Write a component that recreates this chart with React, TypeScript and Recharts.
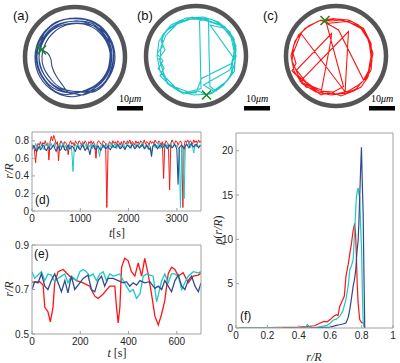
import React from "react";
import {
  ComposedChart,
  LineChart,
  Line,
  Scatter,
  XAxis,
  YAxis,
  ReferenceDot,
} from "recharts";

// ---- colours / fonts ----
const BLUE = "#2f4a8c";
const CYAN = "#1cc7c7";
const RED = "#ff1414";
const GREEN = "#1a8a1a";
const RING = "#555555";
const AX = "#a0a0a0";
const TXT = "#262626";
const SANS = "'Liberation Sans', Arial, Helvetica, sans-serif";
const SERIF = "'Liberation Serif', 'Times New Roman', serif";

// ---- trajectories (units of R, y up) ----
const TRAJ_A: [number, number][] = [
  [-0.67, 0.14], [-0.55, 0.08], [-0.48, -0.05], [-0.46, -0.19], [-0.37, -0.39], [-0.23, -0.59],
  [-0.1, -0.73], [0.1, -0.7], [0.4, -0.69], [0.69, -0.39], [0.8, 0.0], [0.69, 0.4], [0.4, 0.69],
  [0.0, 0.78], [-0.39, 0.68], [-0.69, 0.4], [-0.8, 0.0], [-0.7, -0.4], [-0.4, -0.7], [0.0, -0.79],
  [0.37, -0.64], [0.64, -0.37], [0.74, 0.02], [0.65, 0.36], [0.36, 0.66], [0.03, 0.72],
  [-0.37, 0.64], [-0.65, 0.36], [-0.76, 0.01], [-0.66, -0.37], [-0.36, -0.66], [0.02, -0.74],
  [0.2, -0.75], [0.55, -0.55], [0.75, -0.2], [0.75, 0.2], [0.55, 0.55], [0.2, 0.75],
  [-0.2, 0.75], [-0.55, 0.55], [-0.75, 0.2], [-0.75, -0.2], [-0.55, -0.55], [-0.2, -0.75],
  [0.35, -0.6], [0.62, -0.35], [0.7, -0.02], [0.66, 0.4], [0.38, 0.62], [0.05, 0.68],
  [-0.35, 0.6], [-0.62, 0.34], [-0.72, -0.03], [-0.62, -0.35], [-0.33, -0.62], [0.0, -0.69],
  [0.19, -0.69], [0.51, -0.5], [0.69, -0.19], [0.7, 0.18], [0.5, 0.52], [0.18, 0.7],
  [-0.19, 0.69], [-0.52, 0.5], [-0.7, 0.19], [-0.69, -0.18], [-0.5, -0.51], [-0.18, -0.7],
  [0.18, -0.68], [0.5, -0.49], [0.68, -0.18], [0.68, 0.18], [0.48, 0.5], [0.17, 0.66],
  [-0.17, 0.64], [-0.46, 0.46], [-0.63, 0.17], [-0.64, -0.17], [-0.46, -0.47], [-0.17, -0.66],
  [0.38, -0.66], [0.67, -0.38], [0.77, 0.01], [0.7, 0.38], [0.42, 0.66], [0.1, 0.76],
  [-0.38, 0.7], [-0.66, 0.38], [-0.67, 0.14],
];
const TRAJ_B: [number, number][] = [
  [0.21, -0.78], [0.45, -0.66], [0.66, -0.45], [0.78, -0.15], [0.8, 0.15], [0.7, 0.42], [0.48, 0.62],
  [0.2, 0.73], [0.07, 0.7], [0.08, 0.3], [0.09, -0.2], [0.1, -0.65], [-0.15, -0.72], [-0.42, -0.62],
  [-0.62, -0.42], [-0.72, -0.12], [-0.7, 0.18], [-0.6, 0.42], [-0.38, 0.64], [-0.1, 0.74],
  [0.25, 0.72], [0.26, 0.1], [0.28, -0.61], [0.4, -0.7], [0.55, -0.58], [0.72, -0.35], [0.8, 0.0],
  [0.74, 0.32], [0.55, 0.56], [0.28, 0.62], [0.78, -0.08], [0.77, -0.3], [0.62, -0.5], [0.35, -0.7],
  [0.15, -0.58], [0.68, -0.28], [0.79, 0.05], [0.76, 0.35], [0.58, 0.58], [0.3, 0.74], [0.0, 0.76],
  [-0.3, 0.7], [-0.55, 0.55], [-0.74, 0.3], [-0.78, 0.0], [-0.72, -0.3], [-0.55, -0.55],
  [-0.28, -0.72], [0.0, -0.74], [0.11, -0.45], [0.71, -0.15], [0.8, 0.2], [0.68, 0.48], [0.45, 0.68],
  [0.15, 0.78], [-0.2, 0.76], [-0.5, 0.62], [-0.68, 0.4], [-0.66, 0.2], [-0.78, 0.05], [-0.66, -0.1],
  [-0.76, -0.25], [-0.62, -0.4], [-0.58, -0.55], [-0.35, -0.7], [-0.05, -0.78], [0.3, -0.76],
  [0.52, -0.6], [0.7, -0.4], [0.76, 0.1], [0.7, 0.38], [0.52, 0.6], [0.22, 0.7], [-0.08, 0.78],
  [-0.35, 0.66], [-0.6, 0.5], [-0.7, 0.3], [-0.62, 0.12], [-0.74, -0.05], [-0.64, -0.25],
  [-0.72, -0.4], [-0.5, -0.6], [-0.25, -0.76], [0.05, -0.7], [0.21, -0.78],
];
const TRAJ_C: [number, number][] = [
  [-0.22, 0.71], [0.0, 0.74], [0.25, 0.72], [0.45, 0.62], [0.6, 0.45], [0.68, 0.2], [0.72, -0.05],
  [0.7, -0.28], [0.6, -0.45], [0.45, -0.58], [0.25, -0.7], [0.0, -0.76], [-0.25, -0.74], [-0.5, -0.62],
  [-0.72, -0.51], [0.25, 0.49], [0.18, -0.75], [0.4, -0.66], [0.62, -0.4], [0.72, -0.1], [0.7, 0.25],
  [0.55, 0.55], [0.3, 0.7], [-0.19, 0.65], [0.15, -0.61], [-0.05, -0.72], [-0.35, -0.7], [-0.6, -0.52],
  [-0.79, -0.28], [-0.09, 0.45], [-0.1, 0.32], [-0.29, -0.68], [-0.55, -0.58], [-0.75, -0.4],
  [-0.88, -0.1], [-0.85, 0.2], [-0.75, 0.42], [-0.55, 0.6], [-0.3, 0.72], [0.05, 0.52], [0.55, -0.48],
  [0.65, -0.3], [0.7, 0.0], [0.66, 0.3], [0.5, 0.55], [0.25, 0.68], [-0.05, 0.75], [-0.35, 0.7],
  [-0.62, 0.55], [-0.82, 0.3], [-0.9, 0.0], [-0.84, -0.3], [-0.68, -0.55], [-0.4, -0.72], [-0.1, -0.78],
  [0.2, -0.74], [-0.7, 0.45], [-0.78, 0.25], [-0.86, 0.05], [-0.8, -0.15], [-0.88, -0.3],
  [-0.72, -0.45], [-0.6, -0.62], [-0.45, -0.66], [-0.3, -0.78], [-0.1, -0.72], [0.1, -0.8],
  [0.35, -0.7], [0.5, -0.62], [0.64, -0.42], [0.68, -0.22], [0.74, 0.05], [0.64, 0.36],
  [0.48, 0.58], [0.3, 0.66], [0.1, 0.72], [-0.1, 0.7], [-0.22, 0.71],
];
const START_A: [number, number] = [-0.67, 0.14];
const START_B: [number, number] = [0.21, -0.78];
const START_C: [number, number] = [-0.22, 0.71];

// ---- (d) r/R vs t, long run ----
const D_RED: [number, number][] = [
  [0, .72], [25, .75], [50, .70], [75, .55], [100, .72], [125, .77], [150, .75], [175, .79], [200, .74],
  [225, .78], [250, .76], [275, .80], [300, .75], [325, .77], [350, .58], [375, .79], [400, .85],
  [425, .80], [450, .86], [475, .82], [500, .76], [525, .79], [550, .57], [575, .76], [600, .80],
  [625, .77], [650, .74], [675, .79], [700, .78], [725, .75], [750, .64], [775, .77], [800, .80],
  [825, .76], [850, .78], [875, .74], [900, .80], [925, .77], [950, .76], [975, .80], [1000, .78],
  [1025, .75], [1050, .79], [1075, .76], [1100, .80], [1125, .78], [1150, .72], [1175, .79],
  [1200, .77], [1225, .80], [1250, .76], [1275, .79], [1300, .75], [1325, .60], [1350, .77],
  [1375, .80], [1400, .79], [1425, .76], [1450, .75], [1475, .80], [1500, .78], [1525, .77],
  [1550, .04], [1575, .70], [1600, .79], [1625, .78], [1650, .75], [1675, .80], [1700, .77],
  [1725, .79], [1750, .76], [1775, .80], [1800, .78], [1825, .75], [1850, .79], [1875, .74],
  [1900, .80], [1925, .78], [1950, .76], [1975, .80], [2000, .77], [2025, .81], [2050, .76],
  [2075, .79], [2100, .78], [2125, .75], [2150, .80], [2175, .77], [2200, .79], [2225, .76],
  [2250, .80], [2275, .78], [2300, .77], [2325, .81], [2350, .76], [2375, .79], [2400, .78],
  [2425, .75], [2450, .80], [2475, .77], [2500, .79], [2525, .76], [2550, .81], [2575, .78],
  [2600, .77], [2625, .80], [2650, .78], [2675, .75], [2700, .79], [2725, .37], [2750, .76],
  [2775, .80], [2800, .78], [2825, .76], [2850, .24], [2875, .77], [2900, .81], [2925, .78],
  [2950, .76], [2975, .80], [3000, .79], [3025, .75], [3050, .78], [3075, .80], [3100, .77],
  [3125, .04], [3150, .74], [3175, .80], [3200, .78], [3225, .81], [3250, .77], [3275, .80],
  [3300, .79], [3325, .76], [3350, .81], [3375, .78], [3400, .80], [3425, .77], [3450, .81],
  [3475, .78], [3500, .80],
];
const D_CYAN: [number, number][] = [
  [0, .76], [25, .73], [50, .71], [75, .77], [100, .74], [125, .70], [150, .75], [175, .72], [200, .77],
  [225, .73], [250, .70], [275, .76], [300, .74], [325, .78], [350, .71], [375, .75], [400, .77],
  [425, .72], [450, .74], [475, .78], [500, .73], [525, .70], [550, .75], [575, .77], [600, .72],
  [625, .74], [650, .78], [675, .71], [700, .75], [725, .73], [750, .70], [775, .76], [800, .74],
  [825, .68], [850, .45], [875, .71], [900, .76], [925, .73], [950, .77], [975, .71], [1000, .75],
  [1025, .73], [1050, .78], [1075, .72], [1100, .74], [1125, .77], [1150, .70], [1175, .75],
  [1200, .73], [1225, .77], [1250, .71], [1275, .74], [1300, .76], [1325, .72], [1350, .75],
  [1375, .70], [1400, .62], [1425, .74], [1450, .77], [1475, .72], [1500, .75], [1525, .73],
  [1550, .77], [1575, .71], [1600, .75], [1625, .73], [1650, .78], [1675, .72], [1700, .75],
  [1725, .77], [1750, .71], [1775, .74], [1800, .76], [1825, .72], [1850, .75], [1875, .73],
  [1900, .77], [1925, .71], [1950, .74], [1975, .78], [2000, .73], [2025, .75], [2050, .71],
  [2075, .77], [2100, .74], [2125, .72], [2150, .76], [2175, .73], [2200, .77], [2225, .71],
  [2250, .75], [2275, .73], [2300, .78], [2325, .72], [2350, .74], [2375, .76], [2400, .71],
  [2425, .75], [2450, .73], [2475, .66], [2500, .74], [2525, .77], [2550, .72], [2575, .75],
  [2600, .73], [2625, .78], [2650, .71], [2675, .75], [2700, .73], [2725, .77], [2750, .72],
  [2775, .74], [2800, .76], [2825, .71], [2850, .75], [2875, .78], [2900, .72], [2925, .74],
  [2950, .77], [2975, .73], [3000, .75], [3025, .72], [3050, .70], [3075, .04], [3100, .72],
  [3125, .74], [3150, .14], [3175, .73], [3200, .77], [3225, .74], [3250, .78], [3275, .72],
  [3300, .75], [3325, .73], [3350, .66], [3375, .76], [3400, .73], [3425, .77], [3450, .72],
  [3475, .75], [3500, .74],
];
const D_BLUE: [number, number][] = [
  [0, .70], [25, .73], [50, .74], [75, .69], [100, .68], [125, .72], [150, .73], [175, .70], [200, .71],
  [225, .75], [250, .74], [275, .70], [300, .69], [325, .72], [350, .73], [375, .70], [400, .71],
  [425, .74], [450, .75], [475, .71], [500, .68], [525, .72], [550, .73], [575, .69], [600, .70],
  [625, .74], [650, .74], [675, .70], [700, .69], [725, .73], [750, .75], [775, .71], [800, .71],
  [825, .74], [850, .73], [875, .70], [900, .68], [925, .72], [950, .74], [975, .71], [1000, .70],
  [1025, .73], [1050, .75], [1075, .72], [1100, .69], [1125, .71], [1150, .73], [1175, .70],
  [1200, .64], [1225, .72], [1250, .74], [1275, .75], [1300, .71], [1325, .70], [1350, .73],
  [1375, .74], [1400, .71], [1425, .69], [1450, .72], [1475, .75], [1500, .73], [1525, .71],
  [1550, .72], [1575, .74], [1600, .71], [1625, .70], [1650, .73], [1675, .75], [1700, .73],
  [1725, .72], [1750, .74], [1775, .76], [1800, .73], [1825, .71], [1850, .72], [1875, .74],
  [1900, .72], [1925, .70], [1950, .73], [1975, .75], [2000, .74], [2025, .72], [2050, .73],
  [2075, .76], [2100, .74], [2125, .71], [2150, .72], [2175, .75], [2200, .74], [2225, .72],
  [2250, .73], [2275, .76], [2300, .74], [2325, .71], [2350, .72], [2375, .75], [2400, .73],
  [2425, .70], [2450, .72], [2475, .62], [2500, .73], [2525, .75], [2550, .76], [2575, .73],
  [2600, .71], [2625, .73], [2650, .75], [2675, .74], [2700, .72], [2725, .73], [2750, .76],
  [2775, .74], [2800, .71], [2825, .73], [2850, .75], [2875, .74], [2900, .72], [2925, .73],
  [2950, .76], [2975, .74], [3000, .70], [3025, .30], [3050, .72], [3075, .74], [3100, .75],
  [3125, .73], [3150, .71], [3175, .74], [3200, .76], [3225, .74], [3250, .72], [3275, .75],
  [3300, .77], [3325, .74], [3350, .73], [3375, .75], [3400, .76], [3425, .74], [3450, .72],
  [3475, .74], [3500, .75],
];
const D_XTICKS = [0, 1000, 2000, 3000];
const D_YTICKS = [0, 0.2, 0.4, 0.6, 0.8];

// ---- (e) first 700 s ----
const E_RED: [number, number][] = [
  [0, 0.733], [32, 0.735], [46, 0.72], [53, 0.62], [66, 0.6], [76, 0.555], [87, 0.62], [94, 0.73],
  [108, 0.78], [129, 0.79], [142, 0.775], [156, 0.76], [170, 0.75], [184, 0.74], [212, 0.73],
  [239, 0.715], [260, 0.67], [274, 0.66], [295, 0.68], [322, 0.715], [343, 0.715], [350, 0.62],
  [357, 0.55], [364, 0.62], [371, 0.8], [384, 0.84], [398, 0.83], [412, 0.78], [426, 0.76], [440, 0.82],
  [454, 0.76], [467, 0.84], [481, 0.77], [495, 0.68], [509, 0.58], [523, 0.54], [537, 0.59],
  [550, 0.65], [564, 0.77], [578, 0.8], [592, 0.79], [606, 0.76], [626, 0.775], [647, 0.73],
  [668, 0.76], [689, 0.765], [700, 0.775],
];
const E_CYAN: [number, number][] = [
  [0, 0.78], [11, 0.75], [25, 0.765], [39, 0.78], [53, 0.74], [66, 0.77], [80, 0.765], [94, 0.735],
  [108, 0.75], [122, 0.76], [136, 0.77], [149, 0.73], [163, 0.76], [184, 0.74], [198, 0.78],
  [212, 0.79], [225, 0.78], [239, 0.76], [253, 0.77], [267, 0.74], [281, 0.77], [295, 0.78],
  [308, 0.74], [322, 0.77], [336, 0.76], [350, 0.765], [364, 0.77], [378, 0.74], [391, 0.715],
  [405, 0.69], [419, 0.7], [433, 0.66], [447, 0.68], [461, 0.76], [474, 0.77], [488, 0.765],
  [502, 0.76], [516, 0.645], [523, 0.675], [537, 0.74], [550, 0.77], [564, 0.73], [578, 0.77],
  [592, 0.77], [606, 0.76], [620, 0.7], [633, 0.73], [647, 0.76], [668, 0.78], [689, 0.775], [700, 0.78],
];
const E_BLUE: [number, number][] = [
  [0, 0.7], [11, 0.735], [25, 0.73], [39, 0.77], [53, 0.715], [66, 0.7], [80, 0.74], [94, 0.77],
  [108, 0.73], [122, 0.69], [136, 0.74], [149, 0.685], [163, 0.76], [177, 0.7], [198, 0.73],
  [212, 0.75], [232, 0.765], [246, 0.7], [260, 0.69], [274, 0.74], [288, 0.76], [301, 0.715],
  [315, 0.75], [336, 0.75], [357, 0.74], [378, 0.73], [391, 0.735], [405, 0.715], [419, 0.73],
  [433, 0.72], [447, 0.74], [467, 0.73], [488, 0.735], [509, 0.705], [523, 0.715], [537, 0.7],
  [550, 0.74], [564, 0.715], [578, 0.69], [592, 0.74], [606, 0.765], [620, 0.715], [633, 0.7],
  [647, 0.74], [661, 0.76], [675, 0.715], [689, 0.69], [700, 0.73],
];
const E_XTICKS = [0, 200, 400, 600];
const E_YTICKS = [0.5, 0.7, 0.9];

// ---- (f) distribution rho(r/R) ----
const F_RED: [number, number][] = [
  [0.02, 0.05], [0.1, 0.04], [0.2, 0.05], [0.3, 0.08], [0.4, 0.1], [0.45, 0.15], [0.5, 0.25],
  [0.53, 0.5], [0.56, 0.75], [0.58, 0.7], [0.6, 0.95], [0.62, 1.3], [0.64, 1.5], [0.65, 1.4],
  [0.66, 2.4], [0.68, 3.2], [0.69, 3.6], [0.7, 5.8], [0.715, 7.2], [0.725, 8.4], [0.735, 9.5],
  [0.746, 11], [0.756, 11.8], [0.762, 10.5], [0.767, 8.1], [0.772, 5], [0.778, 2.8], [0.788, 0.94],
  [0.8, 0.6], [0.81, 0.56], [0.82, 0],
];
const F_CYAN: [number, number][] = [
  [0.02, 0.02], [0.2, 0.02], [0.4, 0.03], [0.44, 0.05], [0.455, 0.4], [0.47, 0.05], [0.5, 0.05],
  [0.55, 0.2], [0.58, 0.3], [0.6, 0.56], [0.62, 0.9], [0.64, 1.0], [0.66, 1.3], [0.68, 1.9],
  [0.7, 3.2], [0.715, 4.8], [0.725, 6.6], [0.735, 7.0], [0.746, 7.7], [0.756, 11], [0.767, 14.8],
  [0.774, 15.6], [0.778, 15.8], [0.783, 15.0], [0.788, 14.8], [0.795, 11], [0.8, 8.8], [0.805, 4],
  [0.81, 0.56], [0.815, 0.3], [0.82, 0],
];
const F_BLUE: [number, number][] = [
  [0.3, 0], [0.5, 0.02], [0.6, 0.1], [0.64, 0.3], [0.66, 0.37], [0.68, 0.45], [0.7, 0.56],
  [0.715, 1.2], [0.725, 2.1], [0.735, 3.3], [0.746, 4.7], [0.755, 5.5], [0.763, 6.6], [0.77, 8.5],
  [0.778, 9.9], [0.783, 12], [0.788, 14.8], [0.793, 17.5], [0.799, 20.4], [0.805, 16], [0.81, 12.9],
  [0.815, 6], [0.82, 0],
];
const F_XTICKS = [0, 0.2, 0.4, 0.6, 0.8, 1];
const F_YTICKS = [0, 5, 10, 15, 20];

const xy = (a: [number, number][]) => a.map(([x, y]) => ({ x, y }));

const tickStyle = { fontSize: 10, fill: TXT, fontFamily: SANS };

function XMark(props: any) {
  const { cx, cy } = props;
  const s = 4.5;
  return (
    <g stroke={GREEN} strokeWidth={1.6}>
      <line x1={cx - s} y1={cy - s} x2={cx + s} y2={cy + s} />
      <line x1={cx - s} y1={cy + s} x2={cx + s} y2={cy - s} />
    </g>
  );
}

function Trajectory({ left, top, path, start, color, curve }: any) {
  return (
    <div style={{ position: "absolute", left, top }}>
      <ComposedChart width={110} height={110} margin={{ top: 0, right: 0, bottom: 0, left: 0 }}>
        <XAxis type="number" dataKey="x" domain={[-1.1, 1.1]} hide allowDataOverflow />
        <YAxis type="number" dataKey="y" domain={[-1.1, 1.1]} hide allowDataOverflow />
        <ReferenceDot x={0} y={0} r={50} fill="none" stroke={RING} strokeWidth={4.5} />
        <Line
          data={xy(path)}
          dataKey="y"
          type={curve}
          stroke={color}
          strokeWidth={1.1}
          dot={false}
          isAnimationActive={false}
        />
        <Scatter data={xy([start])} dataKey="y" shape={<XMark />} isAnimationActive={false} />
      </ComposedChart>
    </div>
  );
}

function Frame({ xDomain, xTicks, yDomain, yTicks, yWidth, xHeight }: any) {
  return [
    <XAxis
      key="xb"
      xAxisId="b"
      type="number"
      dataKey="x"
      domain={xDomain}
      ticks={xTicks}
      height={xHeight}
      tickSize={-3}
      tickMargin={7}
      stroke={AX}
      tick={tickStyle}
      allowDataOverflow
    />,
    <XAxis
      key="xt"
      xAxisId="t"
      orientation="top"
      type="number"
      domain={xDomain}
      ticks={xTicks}
      height={1}
      tickSize={-3}
      tick={false}
      stroke={AX}
      allowDataOverflow
    />,
    <YAxis
      key="yl"
      yAxisId="l"
      type="number"
      domain={yDomain}
      ticks={yTicks}
      width={yWidth}
      tickSize={-3}
      tickMargin={6}
      stroke={AX}
      tick={tickStyle}
      allowDataOverflow
    />,
    <YAxis
      key="yr"
      yAxisId="r"
      orientation="right"
      type="number"
      domain={yDomain}
      ticks={yTicks}
      width={1}
      tickSize={-3}
      tick={false}
      stroke={AX}
      allowDataOverflow
    />,
  ];
}

function series(data: [number, number][], color: string, w: number, key: string) {
  return (
    <Line
      key={key}
      xAxisId="b"
      yAxisId="l"
      data={xy(data)}
      dataKey="y"
      type="linear"
      stroke={color}
      strokeWidth={w}
      dot={false}
      isAnimationActive={false}
    />
  );
}

export default function App() {
  return (
    <div
      style={{
        position: "absolute",
        left: 0,
        top: 0,
        width: 400,
        height: 363,
        background: "#fff",
        overflow: "hidden",
      }}
    >
      <Trajectory left={20} top={2} path={TRAJ_A} start={START_A} color={BLUE} curve="natural" />
      <Trajectory left={141} top={1} path={TRAJ_B} start={START_B} color={CYAN} curve="linear" />
      <Trajectory left={281} top={1} path={TRAJ_C} start={START_C} color={RED} curve="linear" />

      <div style={{ position: "absolute", left: 0, top: 124 }}>
        <LineChart width={210} height={116} margin={{ top: 7, right: 8, bottom: 0, left: 0 }}>
          {Frame({ xDomain: [0, 3500], xTicks: D_XTICKS, yDomain: [0, 0.9], yTicks: D_YTICKS, yWidth: 32, xHeight: 29 })}
          {series(D_RED, RED, 1, "r")}
          {series(D_CYAN, CYAN, 1, "c")}
          {series(D_BLUE, BLUE, 1.1, "b")}
        </LineChart>
      </div>

      <div style={{ position: "absolute", left: 0, top: 237 }}>
        <LineChart width={210} height={126} margin={{ top: 7, right: 8, bottom: 0, left: 0 }}>
          {Frame({ xDomain: [0, 700], xTicks: E_XTICKS, yDomain: [0.5, 0.9], yTicks: E_YTICKS, yWidth: 32, xHeight: 29 })}
          {series(E_RED, RED, 1.3, "r")}
          {series(E_CYAN, CYAN, 1.3, "c")}
          {series(E_BLUE, BLUE, 1.3, "b")}
        </LineChart>
      </div>

      <div style={{ position: "absolute", left: 200, top: 125 }}>
        <LineChart width={200} height={238} margin={{ top: 7, right: 6, bottom: 0, left: 0 }}>
          {Frame({ xDomain: [0, 1], xTicks: F_XTICKS, yDomain: [0, 22], yTicks: F_YTICKS, yWidth: 36, xHeight: 35 })}
          {series(F_RED, RED, 1.2, "r")}
          {series(F_CYAN, CYAN, 1.2, "c")}
          {series(F_BLUE, BLUE, 1.2, "b")}
        </LineChart>
      </div>

      <svg
        width={400}
        height={363}
        style={{ position: "absolute", left: 0, top: 0, pointerEvents: "none" }}
      >
        <g fontFamily={SANS} fill="#111" fontSize={13}>
          <text x={13} y={20}>(a)</text>
          <text x={137} y={20}>(b)</text>
          <text x={263} y={20}>(c)</text>
          <text x={35} y={204} fontSize={12}>(d)</text>
          <text x={34} y={258} fontSize={12}>(e)</text>
          <text x={240} y={320} fontSize={12}>(f)</text>
        </g>
        <g fill="#000">
          <rect x={117} y={106} width={26} height={4.5} />
          <rect x={244} y={106} width={26} height={4.5} />
          <rect x={369} y={106} width={26} height={4.5} />
        </g>
        <g fontFamily={SERIF} fontSize={10} fill="#000" textAnchor="middle">
          <text x={130} y={102}>10<tspan fontStyle="italic">μm</tspan></text>
          <text x={257} y={102}>10<tspan fontStyle="italic">μm</tspan></text>
          <text x={382} y={102}>10<tspan fontStyle="italic">μm</tspan></text>
        </g>
        <g fontFamily={SERIF} fontSize={12} fill={TXT} textAnchor="middle">
          <text transform="translate(13,171) rotate(-90)" fontStyle="italic">r/R</text>
          <text x={117} y={237}><tspan fontStyle="italic">t</tspan>[s]</text>
          <text transform="translate(13,289) rotate(-90)" fontStyle="italic">r/R</text>
          <text x={117} y={357}><tspan fontStyle="italic">t</tspan> [s]</text>
          <text transform="translate(222,230) rotate(-90)">
            <tspan fontStyle="italic">ρ</tspan>(<tspan fontStyle="italic">r/R</tspan>)
          </text>
          <text x={314} y={361} fontStyle="italic">r/R</text>
        </g>
      </svg>
    </div>
  );
}
